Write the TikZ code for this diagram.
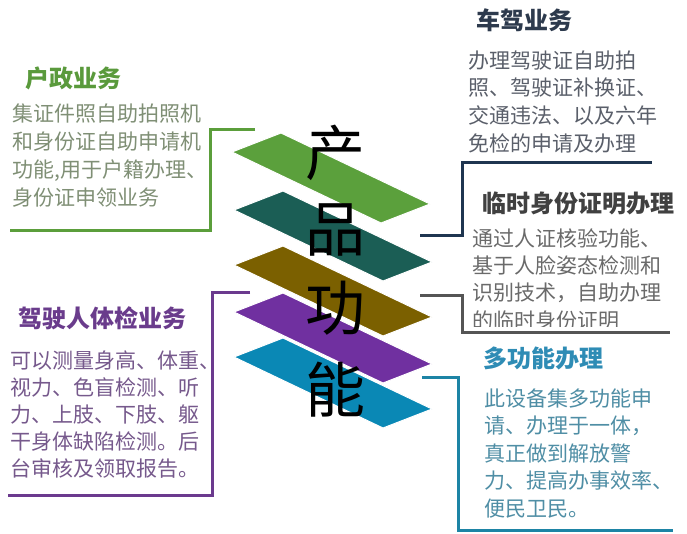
\documentclass[tikz,border=0pt]{standalone}
\usepackage{fontspec}
\setmainfont{Noto Sans CJK SC}
\definecolor{cGreen}{HTML}{5BA03C}
\definecolor{cTeal}{HTML}{1B5E55}
\definecolor{cOlive}{HTML}{7B6000}
\definecolor{cPurple}{HTML}{7030A0}
\definecolor{cBlue}{HTML}{0A88B5}
\definecolor{lGreen}{HTML}{5B9E3B}
\definecolor{lNavy}{HTML}{1F3550}
\definecolor{lGray}{HTML}{555555}
\definecolor{lBlue}{HTML}{1D84A5}
\definecolor{lPurple}{HTML}{6B3A8E}
\definecolor{tGreen}{HTML}{5A9A3C}
\definecolor{bGreen}{HTML}{7F8F75}
\definecolor{tNavy}{HTML}{2D3A4D}
\definecolor{bNavy}{HTML}{5A5F6A}
\definecolor{tGray}{HTML}{404040}
\definecolor{bGray}{HTML}{6A6A6A}
\definecolor{tBlue}{HTML}{2E8CB5}
\definecolor{bBlue}{HTML}{4F8EA5}
\definecolor{tPurple}{HTML}{6A3C8C}
\definecolor{bPurple}{HTML}{76598C}
\begin{document}
\begin{tikzpicture}[x=1pt,y=-1pt,
  para/.style={draw=white, line width=1pt},
  conn/.style={line width=3pt},
  bodytext/.style={anchor=base west, inner sep=0pt, font=\fontsize{21}{21}\selectfont},
  titletext/.style={anchor=base west, inner sep=0pt, font=\fontsize{24}{24}\selectfont\bfseries},
  bigchar/.style={anchor=center, inner sep=0pt, font=\fontsize{60}{60}\selectfont}]
\useasboundingbox (0,0) rectangle (687,533);
\fill[white] (0,0) rectangle (687,533);

% parallelograms
\foreach \c/\xx/\yy/\n in {cGreen/232/152/p1, cTeal/234/210/p2, cOlive/234/265/p3, cPurple/234/312/p4, cBlue/234/357/p5}{
  \coordinate (\n) at (\xx,\yy);
  \fill[\c, para] (\n) -- ++(49,-19) -- ++(149,71) -- ++(-49,19) -- cycle;
}

% big vertical title
\node[bigchar] (c1) at (335,153) {产};
\node[bigchar] (c2) at (335,230) {品};
\node[bigchar] (c3) at (335,308) {功};
\node[bigchar] (c4) at (335,390) {能};

% connectors
\coordinate (g0) at (255,129); \coordinate (g1) at (210,129); \coordinate (g2) at (210,230); \coordinate (g3) at (10,230);
\draw[conn, lGreen] (g0) -- (g1) -- (g2) -- (g3);
\coordinate (n0) at (420,235); \coordinate (n1) at (462,235); \coordinate (n2) at (462,162); \coordinate (n3) at (652,162);
\draw[conn, lNavy] (n0) -- (n1) -- (n2) -- (n3);
\coordinate (k0) at (420,295); \coordinate (k1) at (462,295); \coordinate (k2) at (462,332); \coordinate (k3) at (670,332);
\draw[conn, lGray] (k0) -- (k1) -- (k2) -- (k3);
\coordinate (b0) at (422,377); \coordinate (b1) at (458,377); \coordinate (b2) at (458,530); \coordinate (b3) at (673,530);
\draw[conn, lBlue] (b0) -- (b1) -- (b2) -- (b3);
\coordinate (q0) at (250,292); \coordinate (q1) at (212,292); \coordinate (q2) at (212,495); \coordinate (q3) at (8,495);
\draw[conn, lPurple] (q0) -- (q1) -- (q2) -- (q3);

% green block
\node[titletext, tGreen] (gt) at (25,87) {户政业务};
\foreach \t [count=\i] in {集证件照自助拍照机, 和身份证自助申请机, {功能,用于户籍办理、}, 身份证申领业务}
  \node[bodytext, bGreen] (gb\i) at (12,{121+(\i-1)*28}) {\t};

% navy block
\node[titletext, tNavy] (nt) at (476,29) {车驾业务};
\foreach \t [count=\i] in {办理驾驶证自助拍, 照、驾驶证补换证、, 交通违法、以及六年, 免检的申请及办理}
  \node[bodytext, bNavy] (nb\i) at (468,{68+(\i-1)*27.7}) {\t};

% gray block
\node[titletext, tGray] (kt) at (482,212) {临时身份证明办理};
\foreach \t [count=\i] in {通过人证核验功能、, 基于人脸姿态检测和, 识别技术，自助办理}
  \node[bodytext, bGray] (kb\i) at (472,{246+(\i-1)*27.3}) {\t};
\begin{scope}
  \clip (460,300) rectangle (687,326);
  \node[bodytext, bGray] (kb4) at (472,328) {的临时身份证明};
\end{scope}

% blue block
\node[titletext, tBlue] (bt) at (483,367) {多功能办理};
\foreach \t [count=\i] in {此设备集多功能申, 请、办理于一体，, 真正做到解放警, 力、提高办事效率、, 便民卫民。}
  \node[bodytext, bBlue] (bb\i) at (484,{406+(\i-1)*27.5}) {\t};

% purple block
\node[titletext, tPurple] (qt) at (18,327) {驾驶人体检业务};
\foreach \t [count=\i] in {可以测量身高、体重、, 视力、色盲检测、听, 力、上肢、下肢、躯, 干身体缺陷检测。后, 台审核及领取报告。}
  \node[bodytext, bPurple] (qb\i) at (10,{368+(\i-1)*27}) {\t};
\end{tikzpicture}
\end{document}
